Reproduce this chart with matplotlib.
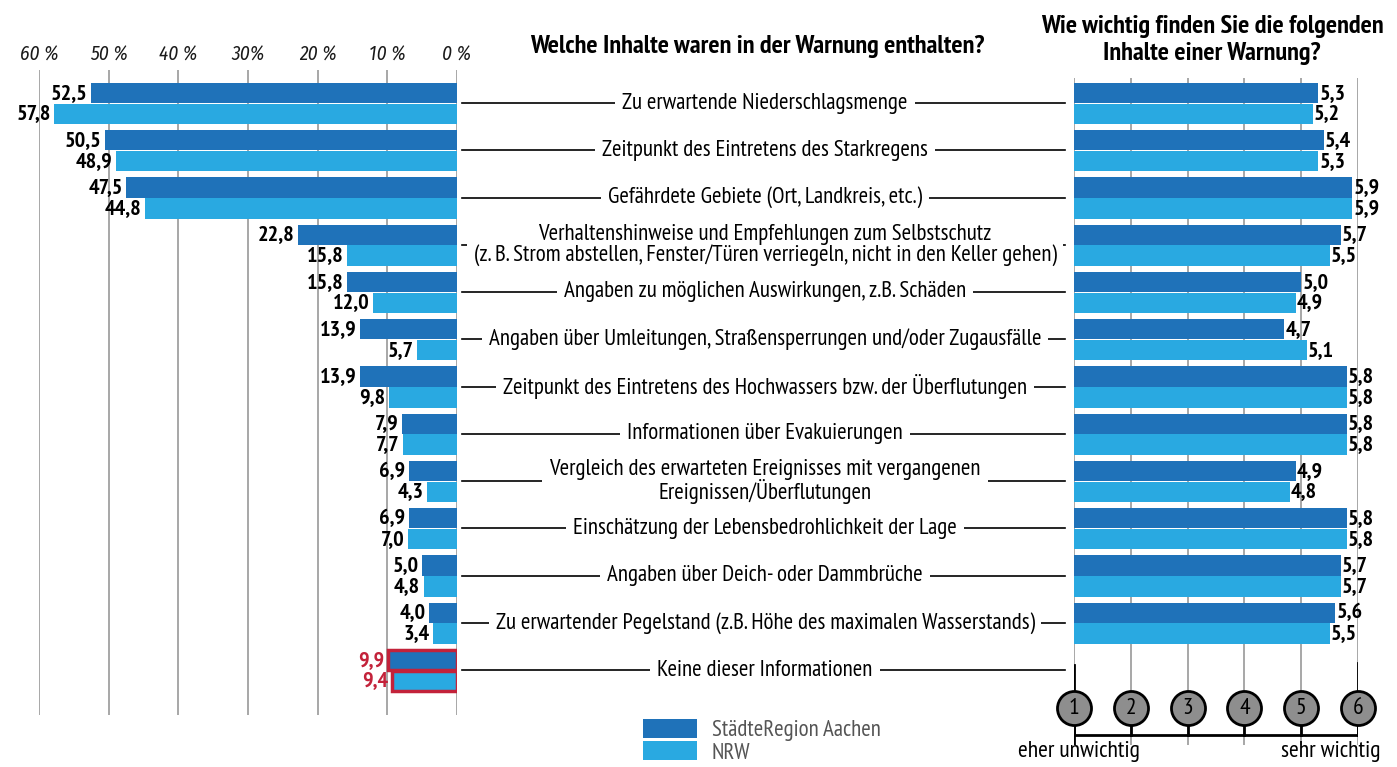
import matplotlib
matplotlib.use("Agg")
import matplotlib.pyplot as plt
from matplotlib.patches import Patch

# Daten
kategorien = [
    "Zu erwartende Niederschlagsmenge",
    "Zeitpunkt des Eintretens des Starkregens",
    "Gefährdete Gebiete (Ort, Landkreis, etc.)",
    "Verhaltenshinweise und Empfehlungen zum Selbstschutz\n(z. B. Strom abstellen, Fenster/Türen verriegeln, nicht in den Keller gehen)",
    "Angaben zu möglichen Auswirkungen, z.B. Schäden",
    "Angaben über Umleitungen, Straßensperrungen und/oder Zugausfälle",
    "Zeitpunkt des Eintretens des Hochwassers bzw. der Überflutungen",
    "Informationen über Evakuierungen",
    "Vergleich des erwarteten Ereignisses mit vergangenen\nEreignissen/Überflutungen",
    "Einschätzung der Lebensbedrohlichkeit der Lage",
    "Angaben über Deich- oder Dammbrüche",
    "Zu erwartender Pegelstand (z.B. Höhe des maximalen Wasserstands)",
    "Keine dieser Informationen",
]
anteil_aachen = [52.5, 50.5, 47.5, 22.8, 15.8, 13.9, 13.9, 7.9, 6.9, 6.9, 5.0, 4.0, 9.9]
anteil_nrw = [57.8, 48.9, 44.8, 15.8, 12.0, 5.7, 9.8, 7.7, 4.3, 7.0, 4.8, 3.4, 9.4]
wichtig_aachen = [5.3, 5.4, 5.9, 5.7, 5.0, 4.7, 5.8, 5.8, 4.9, 5.8, 5.7, 5.6]
wichtig_nrw = [5.2, 5.3, 5.9, 5.5, 4.9, 5.1, 5.8, 5.8, 4.8, 5.8, 5.7, 5.5]
prozent_ticks = [60, 50, 40, 30, 20, 10, 0]
prozent_labels = ["60 %", "50 %", "40 %", "30%", "20 %", "10 %", "0 %"]
skala = [1, 2, 3, 4, 5, 6]

DUNKEL = "#1f72b9"
HELL = "#29a9e1"
ROT = "#c3223a"
GRAU = "#a0a0a0"
FONT = ["PT Sans Narrow", "DejaVu Sans"]
plt.rcParams["font.family"] = FONT

W, H = 1397, 767
fig = plt.figure(figsize=(W / 100, H / 100), dpi=100)

# Pixel -> Datenkoordinate (Zeilenabstand 47.25 px, erste Zeile bei 103 px)
def py(p):
    return (p - 103) / 47.25

def box(x0, x1, y0, y1):
    return [x0 / W, 1 - y1 / H, (x1 - x0) / W, (y1 - y0) / H]

n = len(kategorien)
zeilen = list(range(n))
off_d, off_h, hoehe = -0.21, 0.23, 0.43

# linkes Diagramm
ax = fig.add_axes(box(39, 457, 70, 715))
ax.set_xlim(60, 0)
ax.set_ylim(py(715), py(70))
for s in ax.spines.values():
    s.set_visible(False)
ax.set_yticks([])
ax.xaxis.tick_top()
ax.set_xticks(prozent_ticks)
ax.set_xticklabels(prozent_labels, fontstyle="italic", fontsize=14, color="#1a1a1a",
                   family=["Fira Sans Condensed", "DejaVu Sans"])
ax.tick_params(axis="x", length=0, pad=4)
ax.grid(axis="x", color=GRAU, linewidth=1.3)
ax.set_axisbelow(True)

for i in zeilen:
    letzte = i == n - 1
    kw = dict(edgecolor=ROT, linewidth=2.5) if letzte else dict(linewidth=0)
    ax.barh(i + off_d, anteil_aachen[i], height=hoehe, color=DUNKEL, **kw)
    ax.barh(i + off_h, anteil_nrw[i], height=hoehe, color=HELL, **kw)
    farbe = ROT if letzte else "black"
    for v, yy in ((anteil_aachen[i], i + off_d), (anteil_nrw[i], i + off_h)):
        ax.text(v + 0.5, yy, f"{v:.1f}".replace(".", ","), ha="right", va="center",
                fontsize=16, fontweight="bold", color=farbe, clip_on=False)

# Mitte: Beschriftungen mit Linien
axm = fig.add_axes(box(457, 1074, 70, 715))
axm.set_xlim(457, 1074)
axm.set_ylim(py(715), py(70))
axm.axis("off")
for i, k in enumerate(kategorien):
    axm.plot([462, 1065], [i, i], color="black", linewidth=1.2)
    axm.text(765, i, k, ha="center", va="center", fontsize=16.5, linespacing=0.95,
             bbox=dict(facecolor="white", edgecolor="none", pad=5))

# rechtes Diagramm
axr = fig.add_axes(box(1074, 1358, 78, 745))
axr.set_xlim(1, 6)
axr.set_ylim(py(745), py(78))
axr.axis("off")
for x in skala:
    axr.axvline(x, color=GRAU, linewidth=1.3, zorder=0)
for i in range(len(wichtig_aachen)):
    axr.barh(i + off_d, wichtig_aachen[i] - 1, left=1, height=hoehe, color=DUNKEL, zorder=2)
    axr.barh(i + off_h, wichtig_nrw[i] - 1, left=1, height=hoehe, color=HELL, zorder=2)
    for v, yy in ((wichtig_aachen[i], i + off_d), (wichtig_nrw[i], i + off_h)):
        axr.text(v + 0.02, yy, f"{v:.1f}".replace(".", ","), ha="left", va="center",
                 fontsize=16, fontweight="bold", clip_on=False, zorder=3)

# Skala unten
y_kreis, y_linie = py(708), py(735)
axr.plot([1, 1], [py(665), py(747)], color="black", linewidth=2, zorder=3)
axr.plot([6, 6], [py(663), y_linie], color="black", linewidth=2, zorder=3)
axr.plot([1, 6], [y_linie, y_linie], color="black", linewidth=2, zorder=3)
for x in skala:
    axr.plot([x, x], [y_kreis, y_linie], color="black", linewidth=2, zorder=3)
axr.scatter(skala, [y_kreis] * len(skala), s=600, color="#8e8e8e", edgecolor="black",
            linewidth=2, zorder=4, clip_on=False)
for x in skala:
    axr.text(x, y_kreis, str(x), ha="center", va="center", fontsize=17, zorder=5)
axr.text(0.02, py(751), "eher unwichtig", ha="left", va="center", fontsize=17, clip_on=False)
axr.text(6.4, py(751), "sehr wichtig", ha="right", va="center", fontsize=17, clip_on=False)

# Titel
fig.text(757 / W, 1 - 47 / H, "Welche Inhalte waren in der Warnung enthalten?",
         ha="center", va="center", fontsize=19, fontweight="bold")
fig.text(1212 / W, 1 - 40 / H, "Wie wichtig finden Sie die folgenden\nInhalte einer Warnung?",
         ha="center", va="center", fontsize=19, fontweight="bold", linespacing=1.2)

# Legende
handles = [Patch(facecolor=DUNKEL, edgecolor="none"), Patch(facecolor=HELL, edgecolor="none")]
fig.legend(handles, ["StädteRegion Aachen", "NRW"], loc="upper left",
           bbox_to_anchor=(643 / W, 1 - 719 / H), frameon=False, fontsize=16.5,
           handlelength=2.35, handleheight=0.9, labelspacing=0.0, handletextpad=0.65,
           borderpad=0, borderaxespad=0, labelcolor="#555555")

fig.savefig("out.png", dpi=100)
